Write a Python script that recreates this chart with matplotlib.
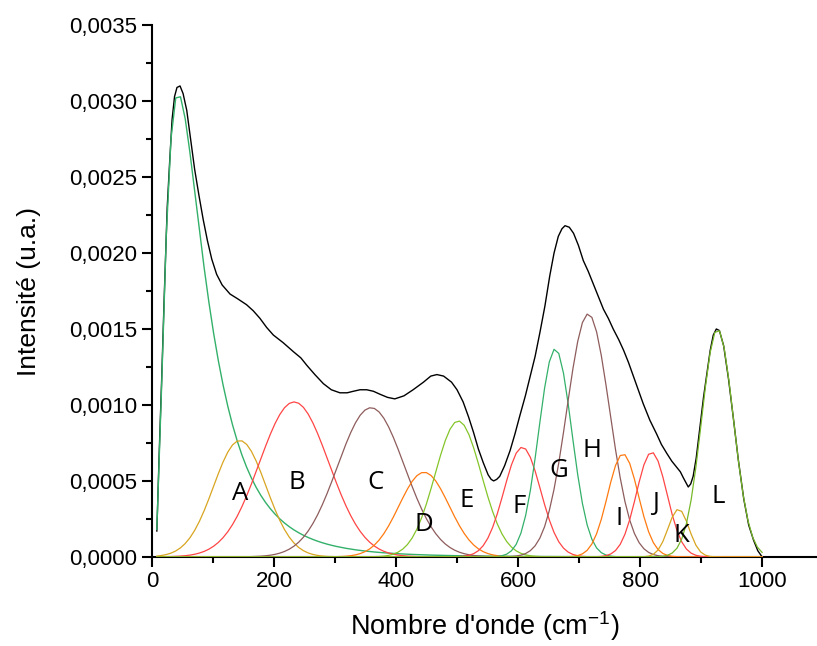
import numpy as np
import matplotlib
matplotlib.use('Agg')
import matplotlib.pyplot as plt
from matplotlib.ticker import MultipleLocator, FuncFormatter

spec_x = [8, 12, 16, 20, 25, 29, 33, 37, 41, 46, 51, 57, 63, 70, 77, 84, 91, 98,
          106, 115, 128, 140, 155, 166, 177, 188, 199, 215, 232, 244, 254, 267,
          281, 294, 308, 320, 330, 341, 352, 363, 374, 386, 398, 413, 428, 445,
          457, 467, 478, 491, 500, 510, 519, 527, 535, 543, 551, 556, 560, 565,
          570, 578, 587, 595, 603, 612, 620, 628, 636, 644, 652, 659, 666, 672,
          677, 684, 691, 699, 707, 715, 723, 731, 740, 748, 756, 765, 773, 781,
          789, 797, 805, 816, 827, 835, 844, 852, 860, 866, 871, 875, 879, 883,
          887, 892, 898, 904, 910, 915, 920, 925, 930, 937, 945, 953, 961, 970,
          978, 986, 993, 1000]
spec_y = [0.00017, 0.0007, 0.00118, 0.0017, 0.0023, 0.0026, 0.00288, 0.00303,
          0.00309, 0.0031, 0.00305, 0.00294, 0.00276, 0.00255, 0.00238, 0.00222,
          0.00208, 0.00196, 0.00186, 0.00179, 0.00173, 0.0017, 0.00166, 0.00162,
          0.00157, 0.00151, 0.00146, 0.00141, 0.00135, 0.00131, 0.00126, 0.0012,
          0.00114, 0.0011, 0.00108, 0.00108, 0.00109, 0.0011, 0.0011, 0.00109,
          0.00107, 0.00105, 0.00104, 0.00106, 0.0011, 0.00115, 0.00119, 0.0012,
          0.00119, 0.00115, 0.0011, 0.00102, 0.00092, 0.00082, 0.00071, 0.00062,
          0.00054, 0.00051, 0.0005, 0.00051, 0.00053, 0.0006, 0.0007, 0.00081,
          0.00093, 0.00106, 0.00119, 0.00132, 0.00148, 0.00165, 0.00185, 0.002,
          0.00211, 0.00216, 0.00218, 0.00217, 0.00213, 0.00205, 0.00195, 0.00188,
          0.0018, 0.00172, 0.00163, 0.00157, 0.0015, 0.00143, 0.00136, 0.00128,
          0.00119, 0.0011, 0.00101, 0.0009, 0.00081, 0.00074, 0.00068, 0.00063,
          0.00059, 0.00056, 0.00052, 0.00049, 0.00046, 0.00048, 0.00053, 0.00065,
          0.00085, 0.00105, 0.00122, 0.00136, 0.00146, 0.0015, 0.00149, 0.00139,
          0.00117, 0.00091, 0.00064, 0.00038, 0.00021, 0.00011, 0.00004, 0.0]

# fitted components (centre in cm-1, height, width)
x = np.linspace(8, 1000, 129)

# low-frequency band (log-normal shape)
bp_center = 43
bp_height = 0.00305
bp_sigma = 0.708

peak_names = ['A', 'B', 'C', 'D', 'E', 'F', 'G', 'H', 'I', 'J', 'K', 'L']
peak_centers = [144, 233, 359, 446, 502, 607, 661, 715, 772, 819, 863, 927]
peak_heights = [0.000766, 0.00102, 0.000982, 0.000557, 0.000895, 0.000722,
                0.00137, 0.0016, 0.000678, 0.000689, 0.000314, 0.0015]
peak_sigmas = [43, 57, 55, 41, 38, 30, 27, 35, 25, 25, 17, 26]

peak_colors = ['#D9A520', '#FF4545', '#8E5C5C', '#FF7A10', '#84C52A', '#FF4545',
               '#33B06A', '#8E5C5C', '#FF7A10', '#FF4545', '#D9A520', '#77B82A']
bp_color = '#33B06A'

label_x = [144, 238, 366, 446, 515, 602, 667, 721, 766, 825, 867, 928]
label_y = [0.000415, 0.00049, 0.00049, 0.00021, 0.00037, 0.00033,
           0.00057, 0.0007, 0.00025, 0.00035, 0.00014, 0.0004]

plt.rcParams['font.family'] = ['Liberation Sans', 'DejaVu Sans']
plt.rcParams['mathtext.fontset'] = 'custom'
plt.rcParams['mathtext.rm'] = 'Liberation Sans'

fig = plt.figure(figsize=(8.17, 6.46), dpi=100)
ax = fig.add_axes([0.186, 0.138, 0.814, 0.823])

bp = bp_height * np.exp(-np.log(x / bp_center) ** 2 / (2 * bp_sigma ** 2))

ax.plot(spec_x, spec_y, color='black', lw=1.0, zorder=2)
ax.plot(x, bp, color=bp_color, lw=1.0, zorder=3)
for c, h, s, col in zip(peak_centers, peak_heights, peak_sigmas, peak_colors):
    ax.plot(x, h * np.exp(-(x - c) ** 2 / (2 * s ** 2)), color=col, lw=0.9, zorder=3)

for name, lx, ly in zip(peak_names, label_x, label_y):
    ax.text(lx, ly, name, ha='center', va='center', fontsize=18.5,
            family=['Open Sans', 'DejaVu Sans'])

ax.set_xlim(0, 1090)
ax.set_ylim(0, 0.0035)
ax.xaxis.set_major_locator(MultipleLocator(200))
ax.xaxis.set_minor_locator(MultipleLocator(100))
ax.yaxis.set_major_locator(MultipleLocator(0.0005))
ax.yaxis.set_minor_locator(MultipleLocator(0.00025))
ax.yaxis.set_major_formatter(FuncFormatter(lambda v, p: f'{v:.4f}'.replace('.', ',')))

for side in ['top', 'right']:
    ax.spines[side].set_visible(False)
for side in ['left', 'bottom']:
    ax.spines[side].set_linewidth(1.5)
ax.tick_params(which='major', direction='out', length=7, width=1.5)
ax.tick_params(which='minor', direction='out', length=4, width=1.5)
ax.tick_params(axis='both', labelsize=16)

ax.set_xlabel(r"Nombre d'onde (cm$\mathregular{^{-1}}$)", fontsize=19.5, labelpad=12)
ax.set_ylabel('Intensité (u.a.)', fontsize=19, labelpad=20)

fig.savefig('out.png', dpi=100)
